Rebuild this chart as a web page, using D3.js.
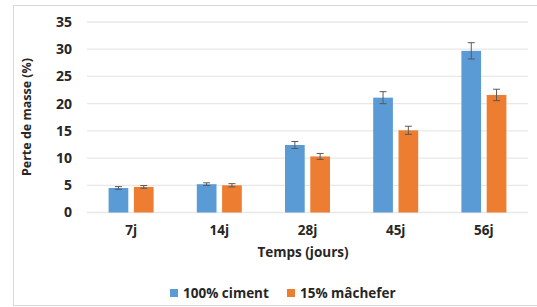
<!DOCTYPE html>
<html>
<head>
<meta charset="utf-8">
<script src="https://cdn.jsdelivr.net/npm/d3@7"></script>
<style>
  body { margin: 0; background: #fff; }
  text { font-family: "Open Sans", "Liberation Sans", sans-serif; font-weight: bold; fill: #262626; }
</style>
</head>
<body>
<svg width="537" height="307"></svg>
<script>
var width = 537;
var height = 307;

// data
var categories = ["7j", "14j", "28j", "45j", "56j"];
var seriesNames = ["100% ciment", "15% mâchefer"];
var cimentValues = [4.5, 5.2, 12.4, 21.1, 29.7];
var cimentErrors = [0.25, 0.25, 0.65, 1.1, 1.5];
var machefValues = [4.7, 5.0, 10.3, 15.1, 21.6];
var machefErrors = [0.25, 0.3, 0.55, 0.75, 1.05];
var yTicks = [0, 5, 10, 15, 20, 25, 30, 35];
var colors = ["#5B9BD5", "#ED7D31"];

var svg = d3.select("svg");

// outer frame
svg.append("rect")
    .attr("x", 13.5).attr("y", 5.5)
    .attr("width", 530).attr("height", 300)
    .attr("fill", "none")
    .attr("stroke", "#d9d9d9");

var x = d3.scaleBand().domain(categories).range([87, 528]);
var y = d3.scaleLinear().domain([0, 35]).range([212.5, 22]);

var barW = 19.7;
var gap = 5.6;

// gridlines
svg.append("g").selectAll("line")
    .data(yTicks)
    .enter().append("line")
    .attr("x1", 87).attr("x2", 528)
    .attr("y1", function(d) { return y(d); })
    .attr("y2", function(d) { return y(d); })
    .attr("stroke", "#e8e8e8")
    .attr("stroke-width", 1.3);

// y axis
var yAxis = d3.axisLeft(y).tickValues(yTicks).tickSize(0).tickPadding(15);
svg.append("g")
    .attr("transform", "translate(87,0)")
    .call(yAxis)
    .call(function(g) { g.select(".domain").remove(); })
    .selectAll("text")
    .attr("font-size", "14px");

// x axis
var xAxis = d3.axisBottom(x).tickSize(0).tickPadding(13);
svg.append("g")
    .attr("transform", "translate(0," + y(0) + ")")
    .call(xAxis)
    .call(function(g) { g.select(".domain").remove(); })
    .selectAll("text")
    .attr("font-size", "13.5px");

// bars
var series = [
    { name: seriesNames[0], values: cimentValues, errors: cimentErrors },
    { name: seriesNames[1], values: machefValues, errors: machefErrors }
];

series.forEach(function(s, si) {
    var offset = si === 0 ? -(gap / 2 + barW) : gap / 2;
    var rows = categories.map(function(c, i) {
        return { cat: c, v: s.values[i], e: s.errors[i] };
    });
    var g = svg.append("g");
    g.selectAll("rect")
        .data(rows)
        .enter().append("rect")
        .attr("x", function(d) { return x(d.cat) + x.bandwidth() / 2 + offset; })
        .attr("y", function(d) { return y(d.v); })
        .attr("width", barW)
        .attr("height", function(d) { return y(0) - y(d.v); })
        .attr("fill", colors[si]);

    // error bars
    var eb = g.selectAll("g.err")
        .data(rows)
        .enter().append("g")
        .attr("class", "err")
        .attr("transform", function(d) {
            return "translate(" + (x(d.cat) + x.bandwidth() / 2 + offset + barW / 2) + ",0)";
        });
    eb.append("line")
        .attr("y1", function(d) { return y(d.v + d.e); })
        .attr("y2", function(d) { return y(d.v - d.e); })
        .attr("stroke", "#595959").attr("stroke-width", 1);
    eb.append("line")
        .attr("x1", -3.5).attr("x2", 3.5)
        .attr("y1", function(d) { return y(d.v + d.e); })
        .attr("y2", function(d) { return y(d.v + d.e); })
        .attr("stroke", "#595959").attr("stroke-width", 1);
    eb.append("line")
        .attr("x1", -3.5).attr("x2", 3.5)
        .attr("y1", function(d) { return y(d.v - d.e); })
        .attr("y2", function(d) { return y(d.v - d.e); })
        .attr("stroke", "#595959").attr("stroke-width", 1);
});

// axis titles
svg.append("text")
    .attr("transform", "translate(31,117) rotate(-90)")
    .attr("text-anchor", "middle")
    .attr("font-size", "12.5px")
    .text("Perte de masse (%)");

svg.append("text")
    .attr("x", 303).attr("y", 257)
    .attr("text-anchor", "middle")
    .attr("font-size", "13.5px")
    .text("Temps (jours)");

// legend
var legendX = [170, 287];
seriesNames.forEach(function(n, i) {
    svg.append("rect")
        .attr("x", legendX[i]).attr("y", 289)
        .attr("width", 8).attr("height", 8)
        .attr("fill", colors[i]);
    svg.append("text")
        .attr("x", legendX[i] + 13).attr("y", 298)
        .attr("font-size", "13.5px")
        .text(n);
});
</script>
</body>
</html>
